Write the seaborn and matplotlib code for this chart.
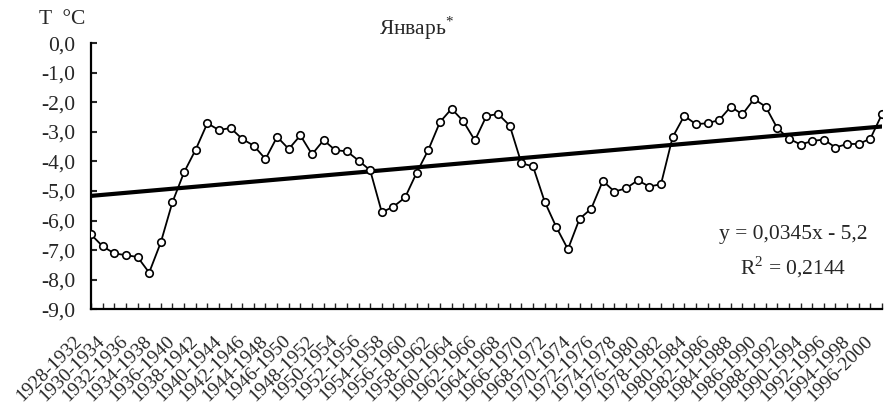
import numpy as np
import pandas as pd
import matplotlib
matplotlib.use("Agg")
import matplotlib.pyplot as plt
import matplotlib.transforms as mtransforms
import seaborn as sns

# Five-year moving averages of January air temperature, °C
start_years = list(range(1928, 1997))
periods = [f"{y}-{y + 4}" for y in start_years]
temps = [
    -6.47, -6.87, -7.11, -7.17, -7.23, -7.76, -6.74, -5.38, -4.37, -3.60,
    -2.71, -2.94, -2.87, -3.24, -3.47, -3.92, -3.17, -3.58, -3.12, -3.76,
    -3.28, -3.62, -3.66, -3.97, -4.30, -5.72, -5.53, -5.22, -4.38, -3.61,
    -2.67, -2.22, -2.64, -3.29, -2.46, -2.40, -2.79, -4.06, -4.17, -5.36,
    -6.22, -6.97, -5.94, -5.60, -4.66, -5.02, -4.91, -4.64, -4.85, -4.77,
    -3.18, -2.46, -2.74, -2.71, -2.60, -2.15, -2.41, -1.89, -2.15, -2.88,
    -3.23, -3.43, -3.31, -3.26, -3.53, -3.41, -3.41, -3.23, -2.40,
]
# Linear trend y = a*x + b (x = 1..N)
trend_slope = 0.0345
trend_intercept = -5.2
r_squared = 0.2144
y_ticks = [0, -1, -2, -3, -4, -5, -6, -7, -8, -9]

df = pd.DataFrame({"idx": np.arange(len(temps)), "temp": temps})
df["trend"] = trend_slope * (df["idx"] + 1) + trend_intercept

sns.set_style("white")
plt.rcParams["font.family"] = ["Liberation Serif", "DejaVu Serif"]
plt.rcParams["mathtext.fontset"] = "custom"
plt.rcParams["mathtext.rm"] = "Liberation Serif"

FS = 15.5

fig = plt.figure(figsize=(8.95, 4.16), dpi=100)
ax = fig.add_axes([91 / 895, 1 - 309.3 / 416, (882 - 91) / 895, (309.3 - 43.1) / 416])

sns.lineplot(data=df, x="idx", y="trend", ax=ax, color="black", linewidth=3.0,
             zorder=2)
sns.lineplot(data=df, x="idx", y="temp", ax=ax, color="black", linewidth=1.3,
             marker="o", markersize=5.4, markerfacecolor="white",
             markeredgecolor="black", markeredgewidth=1.2, zorder=3)

ax.set_xlim(0, len(temps) - 1)
ax.set_ylim(-9, 0)
ax.set_yticks(y_ticks)
ax.set_yticklabels([f"{v:.1f}".replace(".", ",") for v in y_ticks], fontsize=FS)

ax.set_xticks(df["idx"])
ax.set_xticklabels([p if i % 2 == 0 else "" for i, p in enumerate(periods)],
                   rotation=45, ha="right", va="top", rotation_mode="anchor",
                   fontsize=14)
ax.tick_params(axis="x", bottom=True, direction="in", length=4.5, width=1.0,
               pad=0)
ax.tick_params(axis="y", left=True, direction="in", length=4.5, width=1.5,
               pad=11)
shift = mtransforms.ScaledTranslation(-18 / 100, -23 / 100, fig.dpi_scale_trans)
for lbl in ax.get_xticklabels():
    lbl.set_transform(lbl.get_transform() + shift)
ax.set_xlabel("")
ax.set_ylabel("")

for side in ("top", "right"):
    ax.spines[side].set_visible(False)
for side in ("left", "bottom"):
    ax.spines[side].set_linewidth(1.6)
    ax.spines[side].set_color("black")

fig.text(62 / 895, 1 - 19 / 416, "T  °C", fontsize=FS, ha="center", va="center")
fig.text(417 / 895, 1 - 28 / 416, r"Январь$^{*}$", fontsize=FS, ha="center",
         va="center")
fig.text(793 / 895, 1 - 235 / 416,
         f"y = {trend_slope:.4f}x - {abs(trend_intercept):.1f}".replace(".", ","),
         fontsize=FS, ha="center", va="center")
fig.text(793 / 895, 1 - 267 / 416,
         f"R$^2$ = {r_squared:.4f}".replace(".", ","),
         fontsize=FS, ha="center", va="center")

fig.savefig("out.png", dpi=100)
